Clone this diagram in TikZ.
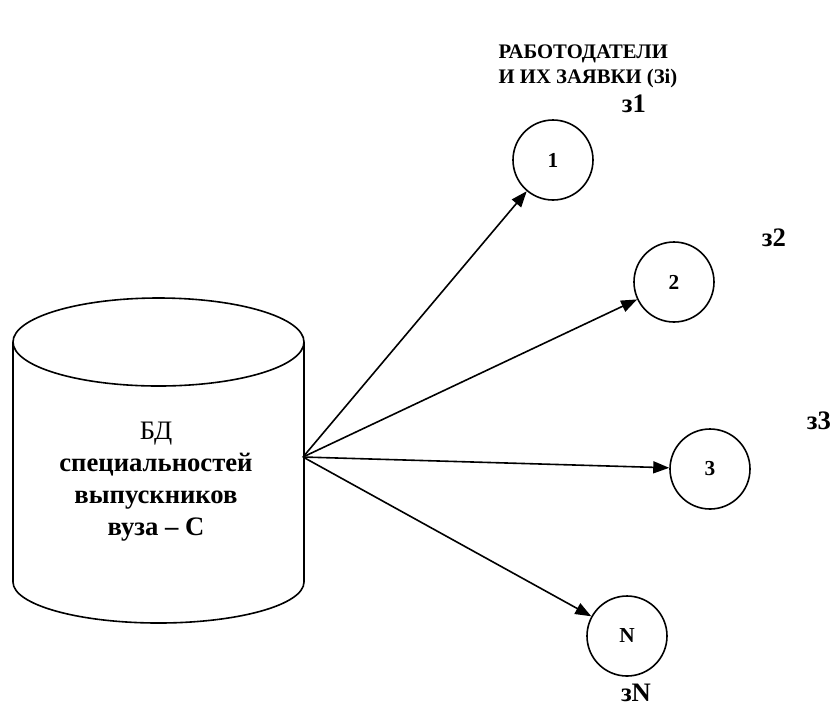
\documentclass[tikz,border=0pt]{standalone}
\usepackage{fontspec}
\setmainfont{Liberation Serif}
\usetikzlibrary{arrows.meta}

\tikzset{
  empl/.style={draw,circle,line width=1.2pt,minimum size=60pt,inner sep=0pt,
    font=\bfseries\fontsize{16}{18}\selectfont},
  req/.style={font=\bfseries\fontsize{20}{22}\selectfont},
  feed/.style={line width=1.2pt,-{Triangle[length=12pt,width=9pt]}}
}

\begin{document}
\begin{tikzpicture}[x=0.75pt,y=-0.75pt]
        \useasboundingbox (0,0) rectangle (835,708);

        % database cylinder
        \draw[line width=1.2pt]
        (158.5,342) ellipse [x radius=145.5,y radius=44]
        (13,342) -- (13,582) arc[start angle=180,end angle=360,x radius=145.5,y radius=-41]
        -- (304,342);
        \coordinate (src) at (303,457);
        \node[align=center,font=\fontsize{20}{24}\selectfont] (db) at (156,482)
        {БД\\ \bfseries специальностей\\ \bfseries выпускников\\ \bfseries вуза – С};

        % employers
        \node[anchor=north west,align=left,font=\bfseries\fontsize{15.5}{19}\selectfont] (title) at (494,40)
        {РАБОТОДАТЕЛИ\\И ИХ ЗАЯВКИ (Зi)};
        \node[empl] (c1) at (553,160) {1};
        \node[empl] (c2) at (674,282) {2};
        \node[empl] (c3) at (710,469) {3};
        \node[empl] (cN) at (627,636) {N};

        \node[req] (z1) at (634,104) {з1};
        \node[req] (z2) at (774,238) {з2};
        \node[req] (z3) at (819,421) {з3};
        \node[req] (zN) at (636,693) {зN};

        \draw[feed] (src) -- (c1);
        \draw[feed] (src) -- (c2);
        \draw[feed] (src) -- (c3);
        \draw[feed] (src) -- (cN);
      \end{tikzpicture}
\end{document}
